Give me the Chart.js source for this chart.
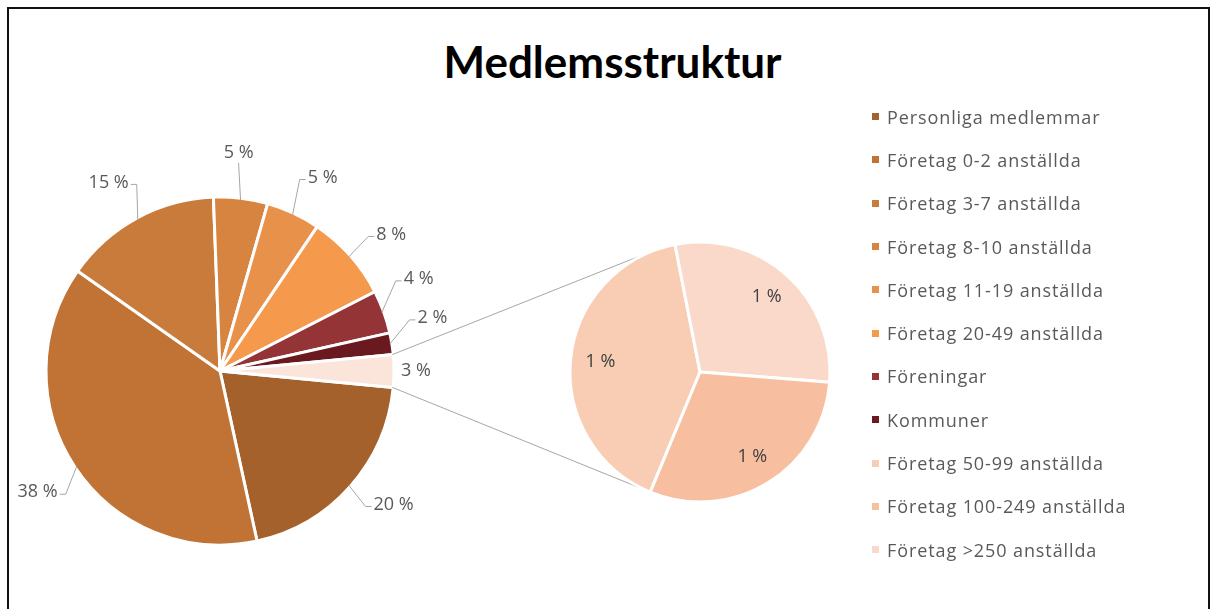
<!DOCTYPE html>
<html lang="sv">
<head>
<meta charset="UTF-8">
<title>Medlemsstruktur</title>
<script src="https://cdn.jsdelivr.net/npm/chart.js"></script>
<style>
  html, body { margin: 0; padding: 0; background: #fff; }
  body { width: 1211px; height: 609px; overflow: hidden; position: relative; font-family: "Open Sans", sans-serif; }
  .frame { position: absolute; left: 7px; top: 7px; width: 1199px; height: 650px; border: 2px solid #111; }
  .title { position: absolute; left: 0; top: 36px; width: 1225px; text-align: center; font: bold 44px Lato, sans-serif; line-height: 50px; color: #000; }
  canvas { position: absolute; left: 0; top: 0; }
  #legend { position: absolute; left: 872px; top: 95px; }
  .item { height: 43.3px; display: flex; align-items: center; font-size: 18px; letter-spacing: 0.9px; color: #595959; white-space: nowrap; }
  .sw { width: 7px; height: 7px; margin-right: 8px; flex: none; }
</style>
</head>
<body>
<div class="frame"></div>
<div class="title">Medlemsstruktur</div>
<canvas id="mainPie" width="1211" height="609"></canvas>
<canvas id="subPie" width="1211" height="609"></canvas>
<div id="legend"></div>
<script>
// main pie categories (clockwise, starting just below 3 o'clock)
const mainLabels = ['Personliga medlemmar', 'Företag 0-2 anställda', 'Företag 3-7 anställda',
  'Företag 8-10 anställda', 'Företag 11-19 anställda', 'Företag 20-49 anställda',
  'Föreningar', 'Kommuner'];
const mainValues = [20, 38, 14.6, 5, 5, 8, 4, 2];
const mainColors = ['#A5612C', '#C07334', '#C97B3B', '#D6843F', '#E8914B', '#F5994D', '#943437', '#6A1A1E'];

// second pie (the split-out "3 %" slice)
const subLabels = ['Företag 50-99 anställda', 'Företag 100-249 anställda', 'Företag >250 anställda'];
const subValues = [1.22, 0.9, 0.88];
const subColors = ['#F9CCB4', '#F7BF9F', '#FAD9CA'];
const subDrawOrder = [0, 2, 1];
const otherColor = '#FBE4D9';

// small angle shifts (deg) for the outside labels so they don't collide
const labelShift = [-4, 0, -2, -2, 3, 3, -5, -5, 0];

const otherValue = subValues.reduce((a, b) => a + b, 0);
const total = mainValues.reduce((a, b) => a + b, 0) + otherValue;
const pct = v => Math.round(v / total * 100) + ' %';

const labelFont = '18px "Open Sans", sans-serif';
const labelColor = '#595959';
const lineColor = '#A6A6A6';

const mainLabelPlugin = {
  id: 'mainLabels',
  afterDatasetsDraw(chart) {
    const ctx = chart.ctx;
    const values = chart.data.datasets[0].data;
    const last = values.length - 1;
    ctx.save();
    ctx.font = labelFont;
    ctx.fillStyle = labelColor;
    ctx.textAlign = 'center';
    ctx.textBaseline = 'middle';
    ctx.strokeStyle = lineColor;
    ctx.lineWidth = 1;
    chart.getDatasetMeta(0).data.forEach((arc, i) => {
      const p = arc.getProps(['x', 'y', 'startAngle', 'endAngle', 'outerRadius'], true);
      const mid = (p.startAngle + p.endAngle) / 2;
      const text = pct(values[i]);
      const w = ctx.measureText(text).width;
      const h = 14;
      if (i === last) {
        const d = p.outerRadius + 22;
        ctx.fillText(text, p.x + Math.cos(mid) * d, p.y + Math.sin(mid) * d);
        return;
      }
      const a = mid + labelShift[i] * Math.PI / 180;
      const d = p.outerRadius + 45;
      const lx = p.x + Math.cos(a) * d;
      const ly = p.y + Math.sin(a) * d;
      ctx.fillText(text, lx, ly);
      const sx = p.x + Math.cos(mid) * (p.outerRadius - 2);
      const sy = p.y + Math.sin(mid) * (p.outerRadius - 2);
      ctx.beginPath();
      ctx.moveTo(sx, sy);
      if (Math.abs(Math.cos(a)) < 0.25) {
        const ey = Math.sin(a) < 0 ? ly + h / 2 + 3 : ly - h / 2 - 3;
        ctx.lineTo(lx, ey);
      } else {
        const side = Math.cos(a) > 0 ? 1 : -1;
        const ex = lx - side * (w / 2 + 2);
        const ey = ly + 2;
        ctx.lineTo(ex - side * 6, ey);
        ctx.lineTo(ex, ey);
      }
      ctx.stroke();
    });
    ctx.restore();
  }
};

const subPlugin = {
  id: 'subExtras',
  beforeDatasetsDraw(chart) {
    // connector lines from the "other" slice to the second pie (tangents)
    const mainMeta = mainChart.getDatasetMeta(0);
    const arc = mainMeta.data[mainMeta.data.length - 1];
    const m = arc.getProps(['x', 'y', 'startAngle', 'endAngle', 'outerRadius'], true);
    const s = chart.getDatasetMeta(0).data[0].getProps(['x', 'y', 'outerRadius'], true);
    const ctx = chart.ctx;
    ctx.save();
    ctx.strokeStyle = lineColor;
    ctx.lineWidth = 1;
    [m.startAngle, m.endAngle].forEach(ang => {
      const px = m.x + Math.cos(ang) * (m.outerRadius - 1);
      const py = m.y + Math.sin(ang) * (m.outerRadius - 1);
      const dx = px - s.x, dy = py - s.y;
      const dist = Math.hypot(dx, dy);
      const th = Math.atan2(dy, dx);
      const al = Math.acos(s.outerRadius / dist);
      const t1 = [s.x + Math.cos(th + al) * s.outerRadius, s.y + Math.sin(th + al) * s.outerRadius];
      const t2 = [s.x + Math.cos(th - al) * s.outerRadius, s.y + Math.sin(th - al) * s.outerRadius];
      const upper = t1[1] < t2[1] ? t1 : t2;
      const lower = t1[1] < t2[1] ? t2 : t1;
      const t = py < m.y ? upper : lower;
      ctx.beginPath();
      ctx.moveTo(px, py);
      ctx.lineTo(t[0], t[1]);
      ctx.stroke();
    });
    ctx.restore();
  },
  afterDatasetsDraw(chart) {
    const ctx = chart.ctx;
    const values = chart.data.datasets[0].data;
    ctx.save();
    ctx.font = labelFont;
    ctx.fillStyle = '#404040';
    ctx.textAlign = 'center';
    ctx.textBaseline = 'middle';
    chart.getDatasetMeta(0).data.forEach((arc, i) => {
      const p = arc.getProps(['x', 'y', 'startAngle', 'endAngle', 'outerRadius'], true);
      const mid = (p.startAngle + p.endAngle) / 2;
      const d = p.outerRadius * 0.77;
      ctx.fillText(pct(values[i]), p.x + Math.cos(mid) * d, p.y + Math.sin(mid) * d);
    });
    ctx.restore();
  }
};

const otherAngle = otherValue / total * 360;

const mainChart = new Chart(document.getElementById('mainPie'), {
  type: 'pie',
  data: {
    labels: mainLabels.concat(['Övriga']),
    datasets: [{
      data: mainValues.concat([otherValue]),
      backgroundColor: mainColors.concat([otherColor]),
      borderColor: '#ffffff',
      borderWidth: 3
    }]
  },
  options: {
    responsive: false,
    animation: false,
    rotation: 90 + otherAngle / 2,
    radius: 174,
    layout: { padding: { left: 20, right: 791, top: 171, bottom: 38 } },
    plugins: { legend: { display: false }, tooltip: { enabled: false } }
  },
  plugins: [mainLabelPlugin]
});

new Chart(document.getElementById('subPie'), {
  type: 'pie',
  data: {
    labels: subDrawOrder.map(i => subLabels[i]),
    datasets: [{
      data: subDrawOrder.map(i => subValues[i]),
      backgroundColor: subDrawOrder.map(i => subColors[i]),
      borderColor: '#ffffff',
      borderWidth: 3
    }]
  },
  options: {
    responsive: false,
    animation: false,
    rotation: 202.5,
    radius: 130,
    layout: { padding: { left: 560, right: 371, top: 232, bottom: 97 } },
    plugins: { legend: { display: false }, tooltip: { enabled: false } }
  },
  plugins: [subPlugin]
});

// legend in the reference's order
const legend = document.getElementById('legend');
mainLabels.concat(subLabels).forEach((name, i) => {
  const color = mainColors.concat(subColors)[i];
  const row = document.createElement('div');
  row.className = 'item';
  row.innerHTML = '<span class="sw" style="background:' + color + '"></span><span>' + name + '</span>';
  legend.appendChild(row);
});
</script>
</body>
</html>
